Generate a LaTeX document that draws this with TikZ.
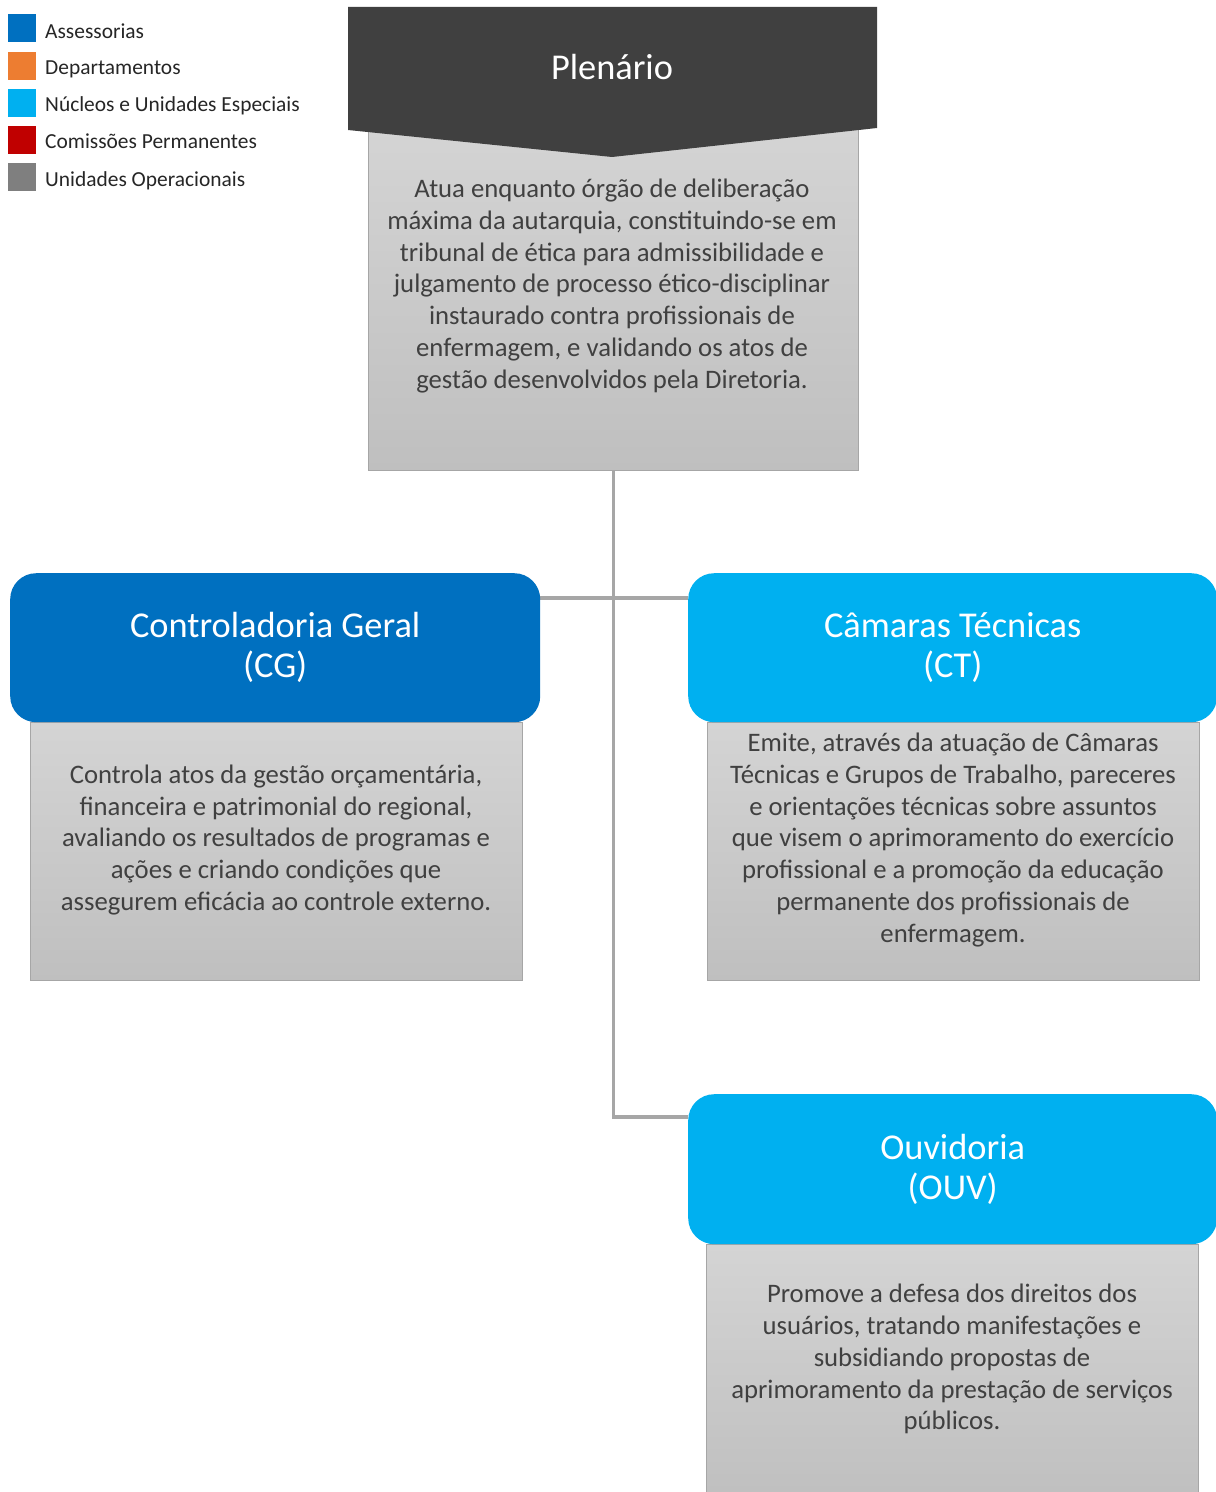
\documentclass[tikz,border=0pt]{standalone}
\usepackage{fontspec}
\setmainfont{Carlito}
\usetikzlibrary{backgrounds,shadings}
\definecolor{assess}{HTML}{0070C0}
\definecolor{depto}{HTML}{ED7D31}
\definecolor{nucleo}{HTML}{00B0F0}
\definecolor{comiss}{HTML}{C00000}
\definecolor{unid}{HTML}{7F7F7F}
\definecolor{plendark}{HTML}{404040}
\definecolor{bodytop}{HTML}{D4D4D4}
\definecolor{bodybot}{HTML}{BFBFBF}
\definecolor{bodyline}{HTML}{A6A6A6}
\definecolor{bodytext}{HTML}{404040}
\definecolor{connline}{HTML}{A6A6A6}
\tikzset{
  legsq/.style={minimum width=28bp,minimum height=28bp,inner sep=0pt,anchor=north west},
  legtxt/.style={anchor=base west,inner sep=0pt,
    font=\fontsize{21.5}{24}\selectfont,text=black!85},
  bodybox/.style={draw=bodyline,line width=1bp,top color=bodytop,bottom color=bodybot,
    inner sep=0pt,anchor=north west},
  bodytxt/.style={align=center,inner sep=0pt,text=bodytext,font=\fontsize{26.8}{32}\selectfont},
  headbox/.style={rounded corners=26bp,inner sep=0pt,anchor=north west,text=white,
    align=center,font=\fontsize{36.5}{40}\selectfont},
  conn/.style={draw=connline,line width=3.5bp}
}
\begin{document}
\begin{tikzpicture}[x=1bp,y=-1bp]
\useasboundingbox (0,0) rectangle (1215,1492);

% legend
\node[legsq,fill=assess] (l1) at (8,14) {};
\node[legsq,fill=depto] (l2) at (8,52) {};
\node[legsq,fill=nucleo] (l3) at (8,89) {};
\node[legsq,fill=comiss] (l4) at (8,126) {};
\node[legsq,fill=unid] (l5) at (8,163) {};
\node[legtxt] (t1) at (45,39) {Assessorias};
\node[legtxt] (t2) at (45,75) {Departamentos};
\node[legtxt] (t3) at (45,112) {Núcleos e Unidades Especiais};
\node[legtxt] (t4) at (45,149) {Comissões Permanentes};
\node[legtxt] (t5) at (45,187) {Unidades Operacionais};

% Plenario
\node[bodybox,minimum width=490bp,minimum height=342bp] (plenbody) at (368,128) {};
\fill[plendark] (348,7) -- (877,7) -- (877,128) -- (612,157) -- (348,130) -- cycle;
\node[text=white,inner sep=0pt,font=\fontsize{36.5}{40}\selectfont] (plen) at (612,67) {Plenário};
\node[bodytxt] (plentext) at (612,286) {Atua enquanto órgão de deliberação\\
máxima da autarquia, constituindo-se em\\
tribunal de ética para admissibilidade e\\
julgamento de processo ético-disciplinar\\
instaurado contra profissionais de\\
enfermagem, e validando os atos de\\
gestão desenvolvidos pela Diretoria.};

% Controladoria Geral
\node[bodybox,minimum width=492bp,minimum height=258bp] (cgbody) at (30,722) {};
\node[headbox,fill=assess,minimum width=530bp,minimum height=149bp] (cg) at (10,573) {Controladoria Geral\\(CG)};
\node[bodytxt] (cgtext) at (276,840) {Controla atos da gestão orçamentária,\\
financeira e patrimonial do regional,\\
avaliando os resultados de programas e\\
ações e criando condições que\\
assegurem eficácia ao controle externo.};

% Camaras Tecnicas
\node[bodybox,minimum width=492bp,minimum height=258bp] (ctbody) at (707,722) {};
\node[headbox,fill=nucleo,minimum width=529bp,minimum height=149bp] (ct) at (688,573) {Câmaras Técnicas\\(CT)};
\node[bodytxt] (cttext) at (953,840) {Emite, através da atuação de Câmaras\\
Técnicas e Grupos de Trabalho, pareceres\\
e orientações técnicas sobre assuntos\\
que visem o aprimoramento do exercício\\
profissional e a promoção da educação\\
permanente dos profissionais de\\
enfermagem.};

% Ouvidoria
\node[bodybox,minimum width=492bp,minimum height=260bp] (ouvbody) at (706,1244) {};
\node[headbox,fill=nucleo,minimum width=529bp,minimum height=150bp] (ouv) at (688,1094) {Ouvidoria\\(OUV)};
\node[bodytxt] (ouvtext) at (952,1359) {Promove a defesa dos direitos dos\\
usuários, tratando manifestações e\\
subsidiando propostas de\\
aprimoramento da prestação de serviços\\
públicos.};

% connectors
\begin{scope}[on background layer]
\fill[white] (0,0) rectangle (1215,1492);
\coordinate (jy) at (0,598);
\coordinate (ouvy) at (0,1117);
\draw[conn] (plenbody.south) -- (plenbody.south |- ouvy) -- (ouv.west |- ouvy);
\draw[conn] (cg.east |- jy) -- (ct.west |- jy);
\end{scope}
\end{tikzpicture}
\end{document}
